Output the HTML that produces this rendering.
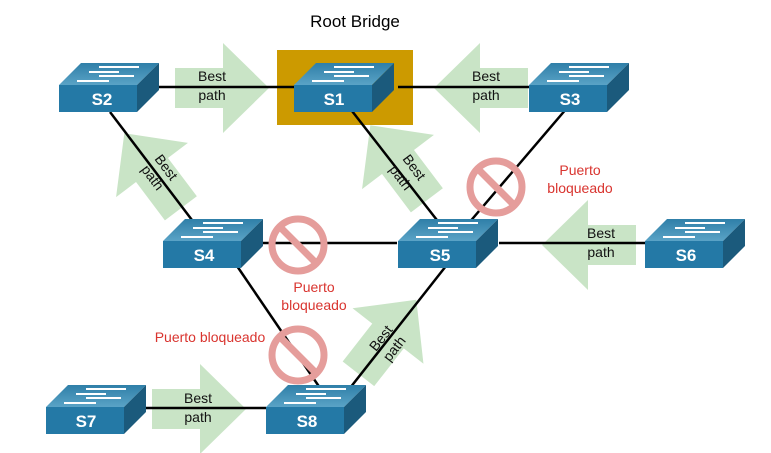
<!DOCTYPE html>
<html><head><style>body{margin:0;background:#fff}svg{display:block}text{font-family:"Liberation Sans",sans-serif}</style></head><body>
<svg width="771" height="453" viewBox="0 0 771 453" xmlns="http://www.w3.org/2000/svg">
<defs>
<linearGradient id="tg" x1="0" y1="0" x2="0" y2="1"><stop offset="0" stop-color="#2f7fa8"/><stop offset="1" stop-color="#5aa3c6"/></linearGradient>
<g id="arr"><polygon points="-48,-20 0,-20 0,-45 46,0 0,45 0,20 -48,20" fill="#c9e4c6"/></g>
<g id="sw">
<polygon points="0,0 22,-22 100,-22 78,0" fill="url(#tg)"/>
<polygon points="78,0 100,-22 100,5 78,27" fill="#1b5a7c"/>
<rect x="0" y="0" width="78" height="27" fill="#2479a6"/>
<g stroke="#fff" stroke-width="2">
<line x1="40" y1="-18" x2="80" y2="-18"/><line x1="30" y1="-13" x2="60" y2="-13"/><line x1="40" y1="-9" x2="75" y2="-9"/><line x1="18" y1="-4" x2="50" y2="-4"/>
</g>
</g>
<g id="no"><circle r="26" fill="none" stroke="#e59d9b" stroke-width="7"/><line x1="-18" y1="-18" x2="18" y2="18" stroke="#e59d9b" stroke-width="7"/></g>
</defs>
<text x="355" y="27" font-size="17" text-anchor="middle" fill="#000">Root Bridge</text>
<rect x="277" y="50" width="136" height="75" fill="#cc9a00"/>
<use href="#arr" transform="translate(223,88)"/>
<use href="#arr" transform="translate(480,88) scale(-1,1)"/>
<use href="#arr" transform="translate(588,245) scale(-1,1)"/>
<use href="#arr" transform="translate(200,409)"/>
<use href="#arr" transform="translate(152,170) rotate(-127)"/>
<use href="#arr" transform="translate(398,162) rotate(-127)"/>
<use href="#arr" transform="translate(388,336) rotate(-52)"/>
<g stroke="#000" stroke-width="2.5">
<line x1="138" y1="87" x2="294" y2="87"/>
<line x1="398" y1="87" x2="529" y2="87"/>
<line x1="110" y1="112" x2="195" y2="224"/>
<line x1="352" y1="111" x2="440" y2="224"/>
<line x1="567" y1="108" x2="468" y2="224"/>
<line x1="242" y1="243" x2="397" y2="243"/>
<line x1="499" y1="243" x2="645" y2="243"/>
<line x1="237" y1="266" x2="320" y2="388"/>
<line x1="446" y1="266" x2="350" y2="388"/>
<line x1="125" y1="408" x2="266" y2="408"/>
</g>
<g font-size="14" fill="#111" text-anchor="middle">
<text x="212" y="81">Best</text><text x="212" y="100">path</text>
<text x="486" y="81">Best</text><text x="486" y="100">path</text>
<text x="601" y="238">Best</text><text x="601" y="257">path</text>
<text x="198" y="403">Best</text><text x="198" y="422">path</text>
<g transform="translate(160,172) rotate(53)"><text x="0" y="-3">Best</text><text x="0" y="14">path</text></g>
<g transform="translate(408,172) rotate(53)"><text x="0" y="-3">Best</text><text x="0" y="14">path</text></g>
<g transform="translate(387,343) rotate(-52)"><text x="0" y="-3">Best</text><text x="0" y="14">path</text></g>
</g>
<g font-size="17" font-weight="bold" fill="#fff" text-anchor="middle">
<use href="#sw" transform="translate(59,85)"/><text x="102" y="105">S2</text>
<use href="#sw" transform="translate(294,85)"/><text x="334" y="105">S1</text>
<use href="#sw" transform="translate(529,85)"/><text x="570" y="105">S3</text>
<use href="#sw" transform="translate(163,241)"/><text x="204" y="261">S4</text>
<use href="#sw" transform="translate(398,241)"/><text x="440" y="261">S5</text>
<use href="#sw" transform="translate(645,241)"/><text x="686" y="261">S6</text>
<use href="#sw" transform="translate(46,407)"/><text x="86" y="427">S7</text>
<use href="#sw" transform="translate(266,407)"/><text x="307" y="427">S8</text>
</g>
<use href="#no" transform="translate(298,245)"/>
<use href="#no" transform="translate(496,187)"/>
<use href="#no" transform="translate(298,355)"/>
<g font-size="14" fill="#d9342f" text-anchor="middle">
<text x="580" y="175">Puerto</text><text x="580" y="193">bloqueado</text>
<text x="314" y="292">Puerto</text><text x="314" y="310">bloqueado</text>
<text x="210" y="342">Puerto bloqueado</text>
</g>
</svg>
</body></html>
